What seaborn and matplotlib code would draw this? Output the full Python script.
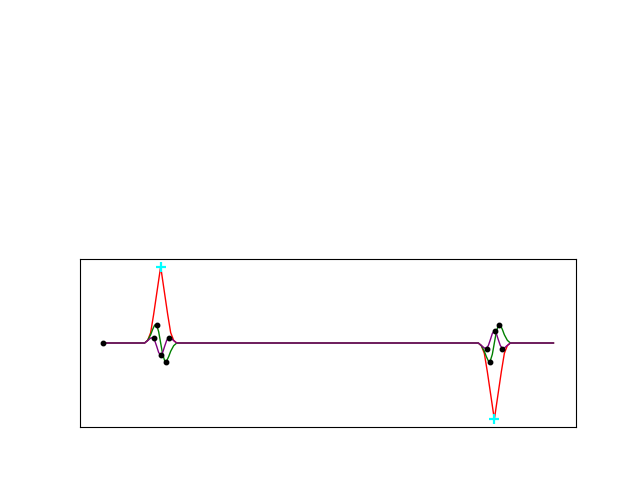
import matplotlib
matplotlib.use("Agg")
import matplotlib.pyplot as plt
import numpy as np
import pandas as pd
import seaborn as sns

# Pulse centres and signal ends (x in sample units)
x_start, x_end = 0, 450
centre_left, centre_right = 58, 391

# Red pulse (coarse samples, offsets from centre)
red_offsets = [-16, -13, -10, -7, 0, 7, 10, 13, 16]
red_values = [0.0, 0.034, 0.135, 0.375, 1.0, 0.375, 0.135, 0.034, 0.0]

# Green / purple (finer samples, offsets from centre)
fine_offsets = [-16, -13, -10, -8, -6, -4, -2, 0, 2, 4, 6, 8, 10, 13, 16]
green_values = [0.0, 0.035, 0.108, 0.178, 0.234, 0.232, 0.148, 0.0,
                -0.148, -0.232, -0.234, -0.178, -0.108, -0.035, 0.0]
purple_values = [0.0, 0.031, 0.065, 0.069, 0.034, -0.042, -0.124, -0.16,
                 -0.124, -0.042, 0.034, 0.069, 0.065, 0.031, 0.0]

# Marked points
dot_x = [0, 51, 54, 58, 63, 66, 384, 387, 392, 396, 399]
dot_y = [0.0, 0.066, 0.237, -0.16, -0.25, 0.07, -0.075, -0.25, 0.16, 0.24, -0.075]
peak_x = [58, 391]
peak_y = [1.0, -1.0]


def build(offsets, values):
    # left pulse positive, right pulse mirrored in sign
    xs = [x_start] + [centre_left + o for o in offsets] + \
         [centre_right + o for o in offsets] + [x_end]
    ys = [0.0] + list(values) + [-v for v in values] + [0.0]
    return pd.DataFrame({"x": xs, "y": ys})


red = build(red_offsets, red_values)
green = build(fine_offsets, green_values)
purple = build(fine_offsets, purple_values)

fig = plt.figure(figsize=(6.4, 4.8), dpi=100)
ax = fig.add_axes([0.125, 0.1104, 0.775, 0.35])

sns.lineplot(data=red, x="x", y="y", sort=False, estimator=None, color="red", lw=1, ax=ax)
sns.lineplot(data=green, x="x", y="y", sort=False, estimator=None, color="green", lw=1, ax=ax)
sns.lineplot(data=purple, x="x", y="y", sort=False, estimator=None, color="purple", lw=1, ax=ax)
ax.plot(dot_x, dot_y, "o", color="black", ms=3.2, zorder=5)
ax.plot(peak_x, peak_y, "+", color="cyan", ms=6.5, mew=1.6, zorder=6)

ax.set_xticks([])
ax.set_yticks([])
ax.set_xlabel("")
ax.set_ylabel("")
ax.margins(0.05)

fig.savefig("out.png", dpi=100)
